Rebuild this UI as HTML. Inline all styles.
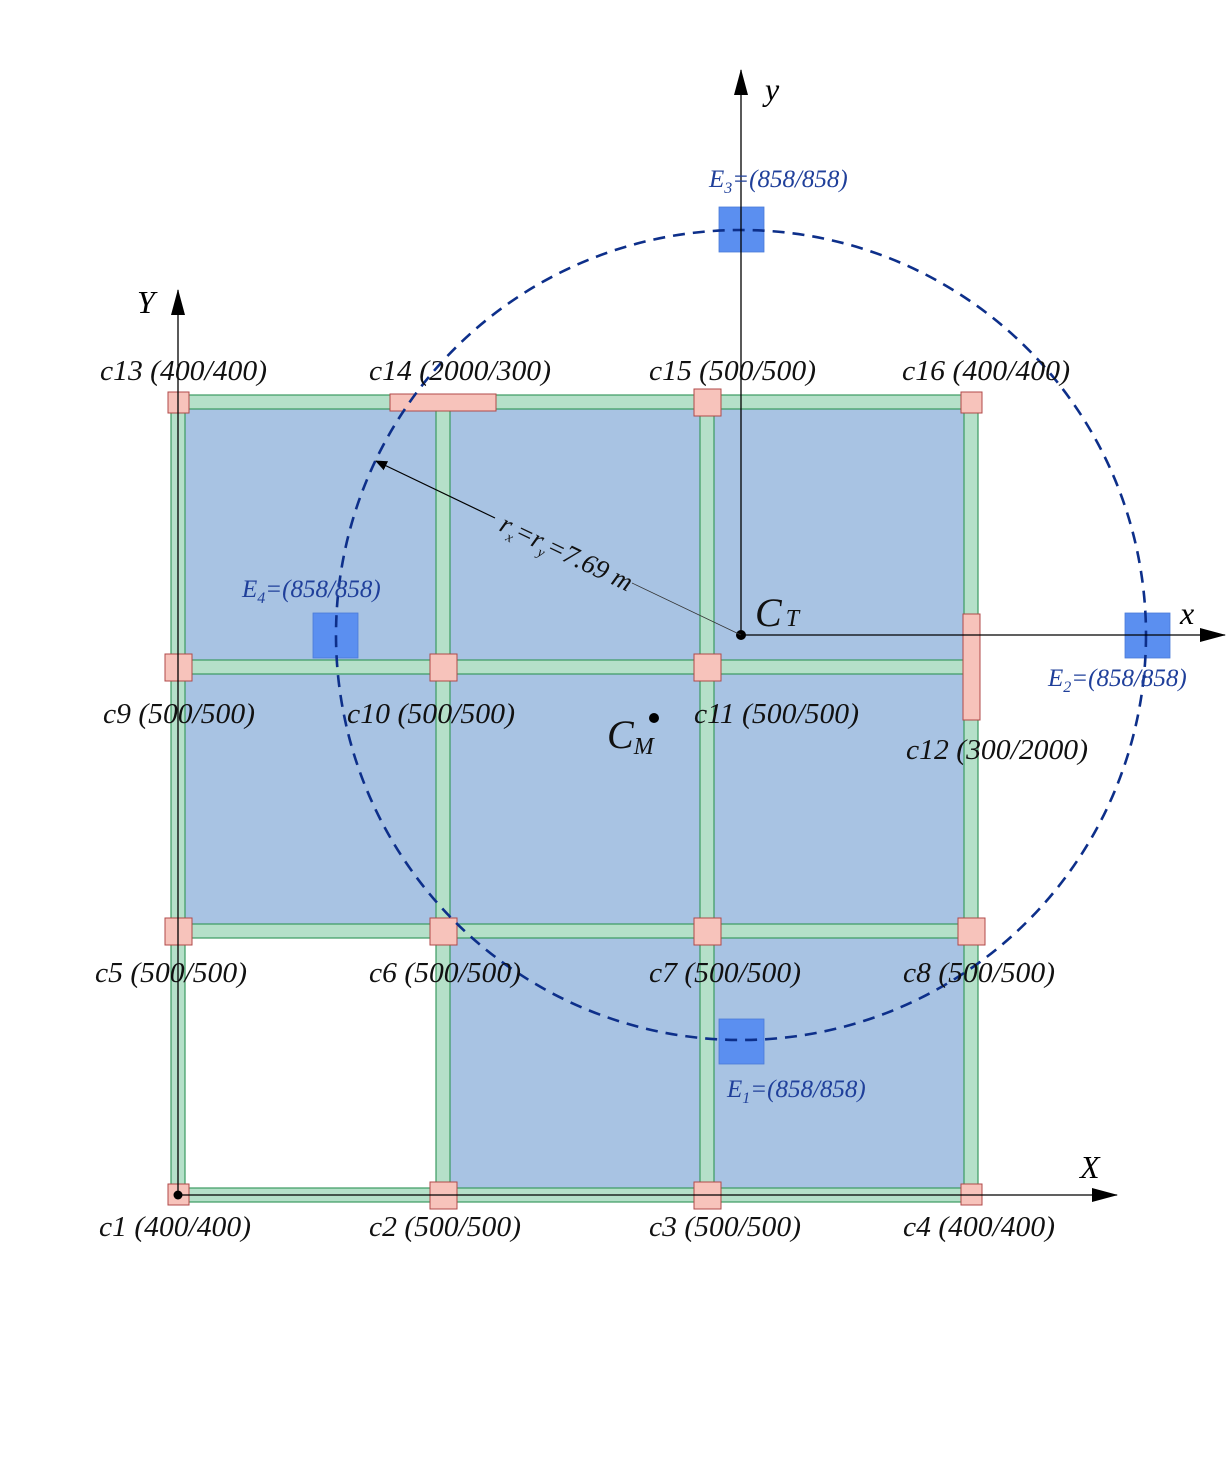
<!DOCTYPE html>
<html><head><meta charset="utf-8"><style>
html,body{margin:0;padding:0;background:#fff}
svg{display:block}
text{font-family:"Liberation Serif",serif;font-style:italic}
.l{font-size:28px;fill:#111}
.e{font-size:25px;fill:#1f3f9a}
</style></head><body>
<svg width="1228" height="1464" viewBox="0 0 1228 1464" xmlns="http://www.w3.org/2000/svg">
<defs>
<marker id="ar" markerWidth="12" markerHeight="10" refX="11" refY="5" orient="auto" markerUnits="userSpaceOnUse"><path d="M0,0 L12,5 L0,10 Z" fill="#000"/></marker>
<marker id="big" markerWidth="26" markerHeight="14" refX="25" refY="7" orient="auto" markerUnits="userSpaceOnUse"><path d="M0,0 L26,7 L0,14 Z" fill="#000"/></marker>
</defs>
<path d="M178,402 H971 V1195 H443 V931 H178 Z" fill="#a8c3e3"/>
<g fill="#b5e0c9" stroke="#3b9a62" stroke-width="1.2">
<rect x="171" y="395" width="807" height="14"/>
<rect x="171" y="660" width="807" height="14"/>
<rect x="171" y="924" width="807" height="14"/>
<rect x="171" y="1188" width="807" height="14"/>
<rect x="171" y="395" width="14" height="807"/>
<rect x="436" y="395" width="14" height="807"/>
<rect x="700" y="395" width="14" height="807"/>
<rect x="964" y="395" width="14" height="807"/>
</g>
<g fill="#f7c3bb" stroke="#b04a48" stroke-width="1">
<rect x="168" y="392" width="21" height="21"/>
<rect x="390" y="394" width="106" height="17"/>
<rect x="694" y="389" width="27" height="27"/>
<rect x="961" y="392" width="21" height="21"/>
<rect x="165" y="654" width="27" height="27"/>
<rect x="430" y="654" width="27" height="27"/>
<rect x="694" y="654" width="27" height="27"/>
<rect x="963" y="614" width="17" height="106"/>
<rect x="165" y="918" width="27" height="27"/>
<rect x="430" y="918" width="27" height="27"/>
<rect x="694" y="918" width="27" height="27"/>
<rect x="958" y="918" width="27" height="27"/>
<rect x="168" y="1184" width="21" height="21"/>
<rect x="430" y="1182" width="27" height="27"/>
<rect x="694" y="1182" width="27" height="27"/>
<rect x="961" y="1184" width="21" height="21"/>
</g>
<g fill="#5b8ff0" stroke="#4a7ad8" stroke-width="0.8">
<rect x="719" y="207" width="45" height="45"/>
<rect x="719" y="1019" width="45" height="45"/>
<rect x="1125" y="613" width="45" height="45"/>
<rect x="313" y="613" width="45" height="45"/>
</g>
<circle cx="741" cy="635" r="405" fill="none" stroke="#0d2f8a" stroke-width="2.6" stroke-dasharray="12,8"/>
<line x1="178" y1="1195" x2="178" y2="290" stroke="#000" stroke-width="1.3" marker-end="url(#big)"/>
<line x1="178" y1="1195" x2="1117" y2="1195" stroke="#000" stroke-width="1.3" marker-end="url(#big)"/>
<line x1="741" y1="635" x2="741" y2="70" stroke="#000" stroke-width="1.3" marker-end="url(#big)"/>
<line x1="741" y1="635" x2="1225" y2="635" stroke="#000" stroke-width="1.3" marker-end="url(#big)"/>
<circle cx="178" cy="1195" r="4.5" fill="#000"/>
<circle cx="741" cy="635" r="5" fill="#000"/>
<circle cx="654" cy="718" r="5" fill="#000"/>
<line x1="741" y1="635" x2="632" y2="583" stroke="#333" stroke-width="0.7"/>
<line x1="495" y1="518" x2="376" y2="461" stroke="#000" stroke-width="1.2" marker-end="url(#ar)"/>
<text transform="translate(498,530) rotate(25.5)" style="font-size:27px" fill="#111">r<tspan font-size="14" dy="6">x</tspan><tspan dy="-6">=r</tspan><tspan font-size="14" dy="6">y</tspan><tspan dy="-6">=7.69 m</tspan></text>
<text x="137" y="313" style="font-size:32px">Y</text>
<text x="1080" y="1178" style="font-size:32px">X</text>
<text x="765" y="100" style="font-size:32px">y</text>
<text x="1180" y="624" style="font-size:32px">x</text>
<text x="755" y="626" style="font-size:40px" fill="#111">C<tspan font-size="24" dx="4">T</tspan></text>
<text x="607" y="748" style="font-size:40px" fill="#111">C<tspan font-size="24" dy="6">M</tspan></text>
<text class="l" x="100" y="380" textLength="167" lengthAdjust="spacingAndGlyphs">c13 (400/400)</text>
<text class="l" x="369" y="380" textLength="182" lengthAdjust="spacingAndGlyphs">c14 (2000/300)</text>
<text class="l" x="649" y="380" textLength="167" lengthAdjust="spacingAndGlyphs">c15 (500/500)</text>
<text class="l" x="902" y="380" textLength="168" lengthAdjust="spacingAndGlyphs">c16 (400/400)</text>
<text class="l" x="103" y="723" textLength="152" lengthAdjust="spacingAndGlyphs">c9 (500/500)</text>
<text class="l" x="347" y="723" textLength="168" lengthAdjust="spacingAndGlyphs">c10 (500/500)</text>
<text class="l" x="694" y="723" textLength="165" lengthAdjust="spacingAndGlyphs">c11 (500/500)</text>
<text class="l" x="906" y="759" textLength="182" lengthAdjust="spacingAndGlyphs">c12 (300/2000)</text>
<text class="l" x="95" y="982" textLength="152" lengthAdjust="spacingAndGlyphs">c5 (500/500)</text>
<text class="l" x="369" y="982" textLength="152" lengthAdjust="spacingAndGlyphs">c6 (500/500)</text>
<text class="l" x="649" y="982" textLength="152" lengthAdjust="spacingAndGlyphs">c7 (500/500)</text>
<text class="l" x="903" y="982" textLength="152" lengthAdjust="spacingAndGlyphs">c8 (500/500)</text>
<text class="l" x="99" y="1236" textLength="152" lengthAdjust="spacingAndGlyphs">c1 (400/400)</text>
<text class="l" x="369" y="1236" textLength="152" lengthAdjust="spacingAndGlyphs">c2 (500/500)</text>
<text class="l" x="649" y="1236" textLength="152" lengthAdjust="spacingAndGlyphs">c3 (500/500)</text>
<text class="l" x="903" y="1236" textLength="152" lengthAdjust="spacingAndGlyphs">c4 (400/400)</text>
<text class="e" x="709" y="187">E<tspan font-size="16" dy="6">3</tspan><tspan dy="-6">=(858/858)</tspan></text>
<text class="e" x="727" y="1097">E<tspan font-size="16" dy="6">1</tspan><tspan dy="-6">=(858/858)</tspan></text>
<text class="e" x="1048" y="686">E<tspan font-size="16" dy="6">2</tspan><tspan dy="-6">=(858/858)</tspan></text>
<text class="e" x="242" y="597">E<tspan font-size="16" dy="6">4</tspan><tspan dy="-6">=(858/858)</tspan></text>
</svg>
</body></html>
